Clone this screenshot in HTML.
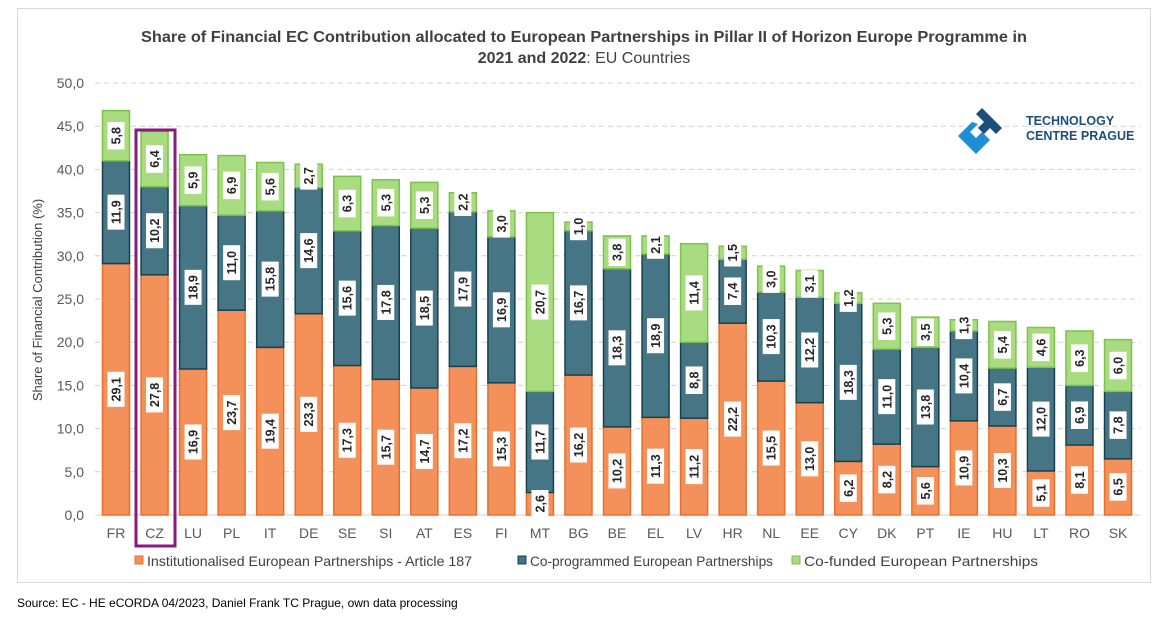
<!DOCTYPE html><html><head><meta charset="utf-8"><style>
body{margin:0;background:#fff;font-family:"Liberation Sans",sans-serif}
</style></head><body>
<svg id="s" width="1169" height="624" xmlns="http://www.w3.org/2000/svg" font-family="Liberation Sans, sans-serif">
<rect x="17.5" y="8.5" width="1133" height="574" fill="#fff" stroke="#d9d9d9"/>
<text x="584" y="42" text-anchor="middle" font-size="16" font-weight="bold" fill="#404040" textLength="886" lengthAdjust="spacingAndGlyphs">Share of Financial EC Contribution allocated to European Partnerships in Pillar II of Horizon Europe Programme in</text>
<text x="584" y="63" text-anchor="middle" font-size="16" fill="#404040"><tspan font-weight="bold">2021 and 2022</tspan>: EU Countries</text>
<text transform="translate(42,300) rotate(-90)" text-anchor="middle" font-size="13" fill="#404040">Share of Financial Contribution (%)</text>
<g id="g"></g>
<g transform="translate(958,104)">
<path d="M14 18 L0 32 L18 50 L32 36 L24 28 L18 34 L12 28 L20 20 Z" fill="#1e8fd6"/>
<path d="M18 10 L24 4 L44 24 L38 30 L32 24 L26 30 L20 24 L26 18 Z" fill="#1b4f79"/>
</g>
<text x="1026" y="125" font-size="12.5" font-weight="bold" fill="#1b4f79">TECHNOLOGY</text>
<text x="1026" y="140" font-size="12.5" font-weight="bold" fill="#1b4f79">CENTRE PRAGUE</text>
<rect x="136" y="130" width="39" height="416" fill="none" stroke="#8b1a7f" stroke-width="3"/>
<rect x="135" y="556" width="8" height="8" fill="#f4915a" stroke="#e86f2a"/>
<text x="147" y="566" font-size="14" fill="#404040" textLength="325" lengthAdjust="spacingAndGlyphs">Institutionalised European Partnerships  - Article 187</text>
<rect x="518" y="556" width="8" height="8" fill="#467686" stroke="#17404f"/>
<text x="530" y="566" font-size="14" fill="#404040" textLength="243" lengthAdjust="spacingAndGlyphs">Co-programmed European Partnerships</text>
<rect x="792" y="556" width="8" height="8" fill="#a9dc80" stroke="#7dc24a"/>
<text x="804" y="566" font-size="14" fill="#404040" textLength="234" lengthAdjust="spacingAndGlyphs">Co-funded European Partnerships</text>
<text x="17" y="607" font-size="12" fill="#000">Source: EC - HE eCORDA 04/2023, Daniel Frank TC Prague, own data processing</text>
</svg>
<script>
var d=[["FR",29.1,11.9,5.8],["CZ",27.8,10.2,6.4],["LU",16.9,18.9,5.9],["PL",23.7,11.0,6.9],["IT",19.4,15.8,5.6],["DE",23.3,14.6,2.7],["SE",17.3,15.6,6.3],["SI",15.7,17.8,5.3],["AT",14.7,18.5,5.3],["ES",17.2,17.9,2.2],["FI",15.3,16.9,3.0],["MT",2.6,11.7,20.7],["BG",16.2,16.7,1.0],["BE",10.2,18.3,3.8],["EL",11.3,18.9,2.1],["LV",11.2,8.8,11.4],["HR",22.2,7.4,1.5],["NL",15.5,10.3,3.0],["EE",13.0,12.2,3.1],["CY",6.2,18.3,1.2],["DK",8.2,11.0,5.3],["PT",5.6,13.8,3.5],["IE",10.9,10.4,1.3],["HU",10.3,6.7,5.4],["LT",5.1,12.0,4.6],["RO",8.1,6.9,6.3],["SK",6.5,7.8,6.0]];
var h='',y0=515,k=8.64;
for(var v=0;v<=50;v+=5){var y=y0-v*k;
if(v>0)h+='<line x1="95" x2="1140" y1="'+y+'" y2="'+y+'" stroke="#d0d0d0" stroke-dasharray="5,4"/>';
h+='<text x="84" y="'+(y+5)+'" text-anchor="end" font-size="14" fill="#595959">'+v.toFixed(1).replace('.',',')+'</text>';}
h+='<line x1="95" x2="1140" y1="515" y2="515" stroke="#d0d0d0"/>';
var cols=[["#f4915a","#e86f2a"],["#467686","#17404f"],["#a9dc80","#7dc24a"]];
d.forEach(function(r,i){var cx=116+i*38.54,b=0,lab='';
for(var j=0;j<3;j++){var v=r[j+1],yt=y0-(b+v)*k,hh=v*k;
h+='<rect x="'+(cx-13.5)+'" y="'+yt+'" width="27" height="'+hh+'" fill="'+cols[j][0]+'" stroke="'+cols[j][1]+'" stroke-width="1.5"/>';
var t=v.toFixed(1).replace('.',','),w=t.length*7.5+5,cy=yt+hh/2;
lab+='<rect x="'+(cx-8.5)+'" y="'+(cy-w/2)+'" width="17" height="'+w+'" fill="#fff"/>';
lab+='<text transform="translate('+(cx+4.5)+','+cy+') rotate(-90)" text-anchor="middle" font-size="12.5" font-weight="bold" fill="#262626">'+t+'</text>';
b+=v;}
h+=lab;
h+='<text x="'+cx+'" y="538" text-anchor="middle" font-size="14" fill="#595959">'+r[0]+'</text>';});
document.getElementById('g').innerHTML=h;
</script>
</body></html>
